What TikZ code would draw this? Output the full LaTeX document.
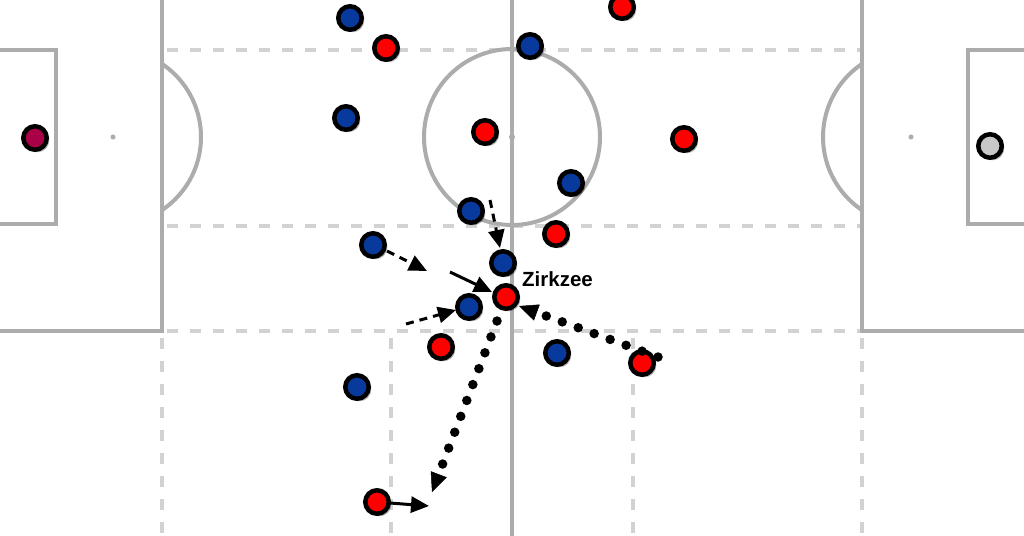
\documentclass[tikz,border=0pt]{standalone}
\usepackage{fontspec}
\setmainfont{Liberation Sans}
\usetikzlibrary{arrows.meta,shadows}
\definecolor{pitchline}{RGB}{172,172,172}
\definecolor{pitchdash}{RGB}{210,210,210}
\definecolor{teamblue}{RGB}{8,58,158}
\definecolor{teamred}{RGB}{255,0,0}
\definecolor{gkred}{RGB}{170,0,72}
\definecolor{gkgray}{RGB}{200,200,200}
\begin{document}
\begin{tikzpicture}[x=1pt,y=-1pt,
  pline/.style={draw=pitchline, line width=4pt},
  pdash/.style={draw=pitchdash, line width=3.5pt, dash pattern=on 11pt off 12pt},
  player/.style={circle, draw=black, line width=4.5pt, minimum size=23.5pt, inner sep=0pt,
    drop shadow={shadow xshift=2.5pt, shadow yshift=-2.5pt, opacity=0.3, fill=black}},
  bplayer/.style={player, fill=teamblue},
  rplayer/.style={player, fill=teamred},
  tip/.style={-{Triangle[length=18pt,width=16pt]}},
  solidarrow/.style={tip, draw=black, line width=3pt},
  dasharrow/.style={tip, draw=black, line width=3pt, dash pattern=on 8pt off 6pt},
  dotarrow/.style={-{Triangle[length=19pt,width=17pt,line width=0.5pt]}, draw=black, line width=9.5pt, line cap=round, dash pattern=on 0pt off 17pt},
  lbl/.style={font=\fontsize{20.5}{24}\selectfont\bfseries, inner sep=0pt}
]
\useasboundingbox (0,0) rectangle (1024,535);
\clip (0,0) rectangle (1024,535);
\fill[white] (0,0) rectangle (1024,535);

% dashed zone lines
\draw[pdash] (167,50) -- (862,50);
\draw[pdash] (167,226) -- (862,226);
\draw[pdash] (167,331) -- (862,331);
\draw[pdash] (162,338) -- (162,540);
\draw[pdash] (391,338) -- (391,540);
\draw[pdash] (633,338) -- (633,540);
\draw[pdash] (862,338) -- (862,540);

% pitch lines
\draw[pline] (162,-5) -- (162,331) -- (-5,331);
\draw[pline] (862,-5) -- (862,331) -- (1029,331);
\draw[pline] (512,-5) -- (512,540);
\draw[pline] (-5,50) -- (56,50) -- (56,224) -- (-5,224);
\draw[pline] (1029,50) -- (968,50) -- (968,224) -- (1029,224);
\draw[pline] (512,137) circle[radius=88];
\begin{scope}
  \clip (162,0) rectangle (300,331);
  \draw[pline] (113,137) circle[radius=88];
\end{scope}
\begin{scope}
  \clip (724,0) rectangle (862,331);
  \draw[pline] (911,137) circle[radius=88];
\end{scope}
\fill[pitchline] (113,137) circle[radius=2.5];
\fill[pitchline] (512,137) circle[radius=3];
\fill[pitchline] (911,137) circle[radius=2.5];

% goalkeepers
\node[player, fill=gkred] (gkl) at (35,138) {};
\node[player, fill=gkgray] (gkr) at (990,146) {};

% blue team
\node[bplayer] (b1) at (350,18) {};
\node[bplayer] (b2) at (530,46) {};
\node[bplayer] (b3) at (346,118) {};
\node[bplayer] (b4) at (571,183) {};
\node[bplayer] (b5) at (471,211) {};
\node[bplayer] (b6) at (373,245) {};
\node[bplayer] (b7) at (503,263) {};
\node[bplayer] (b8) at (469,307) {};
\node[bplayer] (b9) at (557,353) {};
\node[bplayer] (b10) at (357,387) {};

% red team
\node[rplayer] (r1) at (622,7) {};
\node[rplayer] (r2) at (386,48) {};
\node[rplayer] (r3) at (485,132) {};
\node[rplayer] (r4) at (684,139) {};
\node[rplayer] (r5) at (556,234) {};
\node[rplayer] (r6) at (506,297) {};
\node[rplayer] (r7) at (441,347) {};
\node[rplayer] (r8) at (642,363) {};
\node[rplayer] (r9) at (377,502) {};

\node[lbl, anchor=base west] (zlabel) at (522,286) {Zirkzee};

% movement arrows
\coordinate (a1s) at (490,200); \coordinate (a1e) at (500,248);
\coordinate (a2s) at (387,251); \coordinate (a2e) at (427,271);
\coordinate (a3s) at (450,272); \coordinate (a3e) at (492,292);
\coordinate (a4s) at (406,324); \coordinate (a4e) at (456,310);
\coordinate (a5s) at (658,357); \coordinate (a5e) at (519,306);
\coordinate (a6s) at (497,321); \coordinate (a6e) at (432,492);
\coordinate (a7s) at (390,503); \coordinate (a7e) at (429,506);

\draw[dasharrow] (a1s) -- (a1e);
\draw[dasharrow] (a2s) -- (a2e);
\draw[solidarrow] (a3s) -- (a3e);
\draw[dasharrow] (a4s) -- (a4e);
\draw[dotarrow] (a5s) -- (a5e);
\draw[dotarrow] (a6s) -- (a6e);
\draw[solidarrow] (a7s) -- (a7e);
\end{tikzpicture}
\end{document}
